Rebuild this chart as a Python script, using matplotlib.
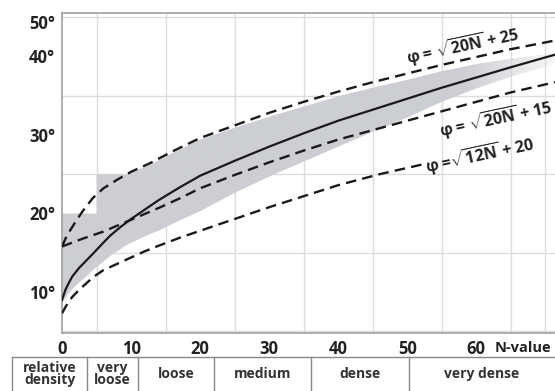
import numpy as np
import matplotlib
matplotlib.use('Agg')
import matplotlib.pyplot as plt
import matplotlib.transforms as mtransforms

plt.rcParams['font.family'] = ['Open Sans', 'DejaVu Sans']
plt.rcParams['mathtext.fontset'] = 'custom'
plt.rcParams['mathtext.rm'] = 'Open Sans:bold'
plt.rcParams['mathtext.it'] = 'Open Sans:bold'
plt.rcParams['mathtext.bf'] = 'Open Sans:bold'

# curves (N-value, friction angle in degrees)
n_mid = [0, 0.5, 1, 1.5, 2.5, 3.5, 4.5, 6, 7, 8.5, 10, 12, 14, 17, 20, 25, 30,
         35, 40, 45, 50, 55, 60, 65, 71.4]
phi_mid = [9.0, 10.3, 11.2, 12.0, 13.1, 14.0, 14.9, 16.3, 17.2, 18.3, 19.3, 20.5,
           21.7, 23.3, 24.8, 26.7, 28.5, 30.2, 31.8, 33.2, 34.6, 36.0, 37.3, 38.6, 40.2]

n_upper = [0, 0.5, 1, 1.5, 2, 3, 4.5, 6, 8, 10, 12.75, 16, 20, 25, 30, 35, 40,
           45, 50, 55, 60, 65, 71.4]
phi_upper = [15.8, 16.8, 17.6, 18.3, 19.0, 20.3, 22.0, 23.2, 24.3, 25.3, 26.4, 27.9,
             29.6, 31.2, 32.8, 34.2, 35.5, 36.7, 37.8, 38.9, 39.9, 40.9, 42.0]

n_dash15 = [0, 3, 6, 10, 14, 17, 20, 25, 30, 35, 40, 45, 50, 55, 60, 65, 71.4]
phi_dash15 = [15.8, 16.8, 17.7, 19.2, 20.7, 21.9, 23.2, 24.9, 26.5, 28.0, 29.4,
              30.6, 31.8, 33.0, 34.2, 35.4, 36.7]

n_lower = [0, 0.5, 1, 1.5, 2.5, 3.5, 4.5, 6, 7, 8.5, 10, 12, 14, 17, 20, 25, 30,
           35, 40, 46, 53]
phi_lower = [7.3, 8.1, 8.8, 9.4, 10.3, 11.1, 11.9, 12.8, 13.2, 13.8, 14.4, 15.2,
             15.9, 16.9, 17.8, 19.3, 20.8, 22.2, 23.6, 25.0, 26.4]

# shaded band edges
band_top_n = [0, 5, 5, 9.5, 12.75, 16, 20, 25, 30, 35, 40, 45, 50, 55, 60, 65, 71.4]
band_top_phi = [20, 20, 25, 25, 26.2, 27.7, 29.4, 30.9, 32.3, 33.6, 34.9, 36.0,
                37.0, 38.1, 39.0, 39.7, 40.4]
band_bot_n = [0, 1, 2, 3, 4.5, 7, 9.4, 12, 14.2, 17, 20, 25, 30, 35, 40, 45, 50,
              55, 60, 65, 71.4]
band_bot_phi = [8.6, 9.9, 10.8, 11.6, 12.8, 14.6, 16.0, 17.1, 17.9, 19.1, 20.3, 22.6,
                24.7, 26.6, 28.5, 30.4, 32.2, 34.2, 35.9, 37.4, 39.0]

x_ticks = [0, 10, 20, 30, 40, 50, 60]
y_ticks = [10, 20, 30, 40, 44.3]
y_tick_labels = ['10°', '20°', '30°', '40°', '50°']

class_edges = [-7.2, 3.6, 11, 22, 36, 50.2, 71.4]
class_names = ['relative\ndensity', 'very\nloose', 'loose', 'medium', 'dense', 'very dense']

fig = plt.figure(figsize=(5.55, 3.91), dpi=100)
ax = fig.add_axes([62 / 555, 58 / 391, 493 / 555, 320 / 391])
ax.set_xlim(0, 71.4)
ax.set_ylim(4.8, 45.5)

# grid every 5
ax.set_xticks(np.arange(0, 71, 5), minor=True)
ax.set_yticks(np.arange(5, 46, 5), minor=True)
ax.grid(which='minor', color='#dcdcdc', lw=1.0)
ax.tick_params(which='minor', length=0)
ax.set_axisbelow(True)

# shaded band, fading out to the right
poly_x = band_top_n + band_bot_n[::-1]
poly_y = band_top_phi + band_bot_phi[::-1]
patch = ax.fill(poly_x, poly_y, color='none', lw=0)[0]
grad = np.ones((2, 300, 4))
grad[..., :3] = np.array([0.80, 0.81, 0.83])
xs = np.linspace(0, 71.4, 300)
alpha = np.clip((71.4 - xs) / (71.4 - 58), 0, 1) * 0.85 + 0.15
alpha[xs < 58] = 1.0
grad[..., 3] = alpha
im = ax.imshow(grad, extent=[0, 71.4, 4.8, 45.5], aspect='auto', zorder=1)
im.set_clip_path(patch)

dash = (4.5, 2.6)
ax.plot(n_upper, phi_upper, color='#1a1a1a', lw=1.7, dashes=dash, zorder=3)
ax.plot(n_dash15, phi_dash15, color='#1a1a1a', lw=1.7, dashes=dash, zorder=3)
ax.plot(n_lower, phi_lower, color='#1a1a1a', lw=1.7, dashes=dash, zorder=3)
ax.plot(n_mid, phi_mid, color='#1a1a1a', lw=1.6, zorder=4)

lab = dict(fontsize=11.5, fontweight='bold', color='#222222', rotation=12,
           ha='center', va='center', rotation_mode='anchor', zorder=5)
ax.text(58.1, 41.3, r'φ = $\sqrt{\mathbf{20N}}$ + 25', **lab)
ax.text(62.8, 32.0, r'φ = $\sqrt{\mathbf{20N}}$ + 15', **lab)
ax.text(60.6, 27.3, r'φ =$\sqrt{\mathbf{12N}}$ + 20', **lab)

ax.set_xticks(x_ticks)
ax.set_xticklabels([str(v) for v in x_ticks])
ax.set_yticks(y_ticks)
ax.set_yticklabels(y_tick_labels)
ax.tick_params(which='major', length=0, labelsize=12, labelcolor='#222222', pad=5)
for t in ax.get_xticklabels() + ax.get_yticklabels():
    t.set_fontweight('bold')
ax.text(62.6, 4.8, 'N-value', fontsize=10.5, fontweight='bold', color='#222222',
        ha='left', va='top',
        transform=ax.transData + mtransforms.ScaledTranslation(0, -5.5 / 72, fig.dpi_scale_trans))

for s in ['left', 'bottom', 'top']:
    ax.spines[s].set_color('#a0a0a0')
    ax.spines[s].set_linewidth(1.2)
ax.spines['right'].set_visible(False)

# relative density table under the axis
tr = mtransforms.blended_transform_factory(ax.transData, fig.transFigure)
ax.plot([class_edges[0], class_edges[-1]], [34 / 391, 34 / 391], transform=tr,
        color='#888888', lw=1.0, clip_on=False)
for e in class_edges[:-1]:
    ax.plot([e, e], [0, 34 / 391], transform=tr, color='#888888', lw=1.0, clip_on=False)
for i, name in enumerate(class_names):
    cx = (class_edges[i] + class_edges[i + 1]) / 2
    ax.text(cx, 17 / 391, name, transform=tr, ha='center', va='center',
            fontsize=10, fontweight='bold', color='#333333', linespacing=0.9)

fig.savefig('out.png', dpi=100)
